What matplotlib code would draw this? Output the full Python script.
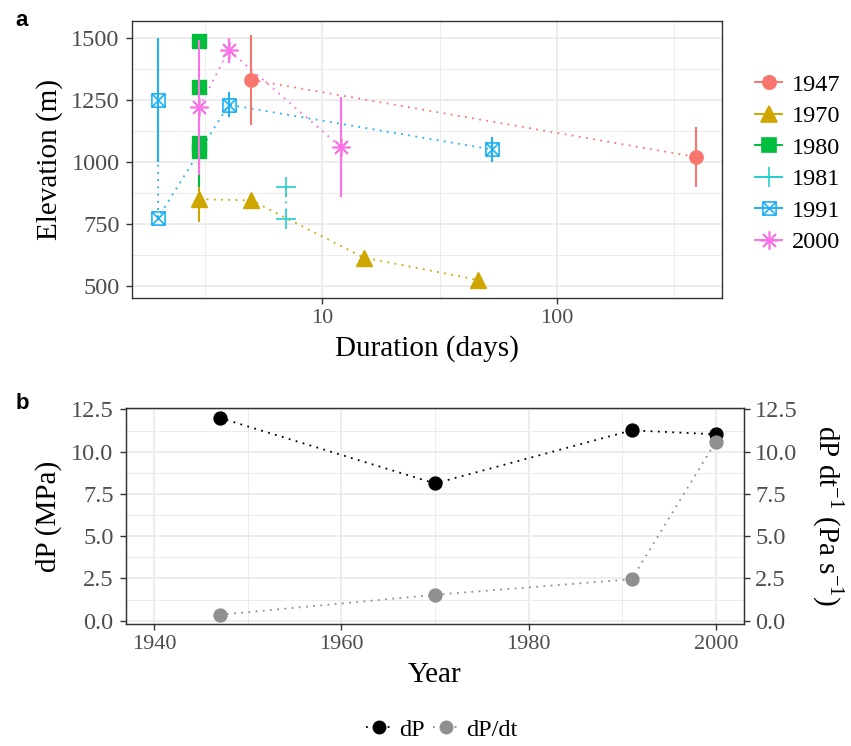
import matplotlib
matplotlib.use('Agg')
import matplotlib.pyplot as plt
from matplotlib.path import Path
from matplotlib.lines import Line2D
from matplotlib.ticker import FixedLocator, NullFormatter
import numpy as np

plt.rcParams['font.family'] = 'Liberation Serif'
plt.rcParams['mathtext.fontset'] = 'custom'
plt.rcParams['mathtext.rm'] = 'Liberation Serif'

nan = np.nan

# Panel a data: duration (days), elevation (m), error bar low/high
dur_1947 = [5, 390]
elev_1947 = [1330, 1020]
lo_1947 = [1150, 900]
hi_1947 = [1510, 1140]

dur_1970 = [3, 5, 15, 46]
elev_1970 = [850, 845, 615, 525]
lo_1970 = [757, nan, nan, nan]
hi_1970 = [943, nan, nan, nan]

dur_1980 = [3, 3, 3, 3]
elev_1980 = [1487, 1300, 1075, 1045]
lo_1980 = [1462, nan, nan, 898]
hi_1980 = [1512, nan, nan, 1192]

dur_1981 = [7, 7]
elev_1981 = [898, 770]
lo_1981 = [nan, nan]
hi_1981 = [nan, nan]

dur_1991 = [2, 2, 4, 53]
elev_1991 = [1250, 775, 1230, 1050]
lo_1991 = [1000, nan, 1180, 1000]
hi_1991 = [1500, nan, 1280, 1100]

dur_2000 = [3, 4, 12]
elev_2000 = [1220, 1450, 1060]
lo_2000 = [948, 1400, 860]
hi_2000 = [1492, 1500, 1260]

years_a = ['1947', '1970', '1980', '1981', '1991', '2000']
colors_a = ['#F8766D', '#CFA500', '#00BE3C', '#22CFCF', '#1EB2F5', '#FB72E6']

# Panel b data
years_b = [1947, 1970, 1991, 2000]
dP = [12.0, 8.12, 11.26, 11.03]
dPdt = [0.35, 1.53, 2.45, 10.6]

# square with an X (ggplot shape 7)
box_x = Path([(-1, -1), (1, -1), (1, 1), (-1, 1), (-1, -1), (-1, -1), (1, 1), (-1, 1), (1, -1)],
             [Path.MOVETO, Path.LINETO, Path.LINETO, Path.LINETO, Path.CLOSEPOLY,
              Path.MOVETO, Path.LINETO, Path.MOVETO, Path.LINETO])

markers = ['o', '^', 's', '+', box_x, (8, 2, 0)]
msizes = [9.6, 11.5, 9.4, 14, 9.5, 13]
filled = [True, True, True, False, False, False]

series = [
    (dur_1947, elev_1947, lo_1947, hi_1947),
    (dur_1970, elev_1970, lo_1970, hi_1970),
    (dur_1980, elev_1980, lo_1980, hi_1980),
    (dur_1981, elev_1981, lo_1981, hi_1981),
    (dur_1991, elev_1991, lo_1991, hi_1991),
    (dur_2000, elev_2000, lo_2000, hi_2000),
]

dots = (0, (1, 3))
grid_col = '#EBEBEB'
tick_col = '#4D4D4D'


def style(ax):
    for s in ax.spines.values():
        s.set_color('#333333')
        s.set_linewidth(1.0)
    ax.grid(True, which='major', color=grid_col, lw=1.3)
    ax.grid(True, which='minor', color=grid_col, lw=0.65)
    ax.set_axisbelow(True)
    ax.tick_params(which='major', direction='out', length=4, width=1.0, color='#333333',
                   labelcolor=tick_col, labelsize=16, pad=4)
    ax.tick_params(axis='y', labelsize=17.5, pad=5)
    ax.tick_params(which='minor', length=0)


fig = plt.figure(figsize=(8.51, 7.46), dpi=100)
ax1 = fig.add_axes([0.1551, 0.6005, 0.6933, 0.3713])
ax2 = fig.add_axes([0.1481, 0.1635, 0.7262, 0.2895])

# ---- panel a ----
ax1.set_xscale('log')
handles = []
for (x, y, lo, hi), c, m, ms, f, lab in zip(series, colors_a, markers, msizes, filled, years_a):
    ax1.plot(x, y, color=c, lw=1.3, linestyle=dots, zorder=2)
    if f:
        ax1.plot(x, y, linestyle='none', marker=m, ms=ms, color=c, mec=c, zorder=3)
    else:
        ax1.plot(x, y, linestyle='none', marker=m, ms=ms, color=c, mfc='none', mec=c,
                 mew=1.2, zorder=3)
    xs = np.array(x, float)
    lo = np.array(lo, float)
    hi = np.array(hi, float)
    ok = ~np.isnan(lo)
    ax1.vlines(xs[ok], lo[ok], hi[ok], color=c, lw=1.5, zorder=4)
    handles.append(Line2D([], [], color=c, lw=1.4, marker=m, ms=ms,
                          mfc=c if f else 'none', mec=c, mew=1.2, label=lab))

ax1.set_xlim(10 ** 0.19, 10 ** 2.703)
ax1.set_ylim(452, 1567)
ax1.xaxis.set_major_locator(FixedLocator([10, 100]))
ax1.set_xticklabels(['10', '100'])
ax1.xaxis.set_minor_locator(FixedLocator([10 ** 0.5, 10 ** 1.5, 10 ** 2.5]))
ax1.xaxis.set_minor_formatter(NullFormatter())
ax1.yaxis.set_major_locator(FixedLocator([500, 750, 1000, 1250, 1500]))
ax1.yaxis.set_minor_locator(FixedLocator([625, 875, 1125, 1375]))
style(ax1)
ax1.set_xlabel('Duration (days)', fontsize=21, labelpad=5)
ax1.set_ylabel('Elevation (m)', fontsize=21, labelpad=6)

fig.legend(handles=handles, loc='center left', bbox_to_anchor=(0.862, 0.781),
           frameon=False, fontsize=17.5, handlelength=1.1, labelspacing=0.39,
           handletextpad=0.4)

# ---- panel b ----
ax2.plot(years_b, dP, color='black', lw=1.3, linestyle=dots, marker='o', ms=9.3, zorder=3)
ax2.plot(years_b, dPdt, color='#8F8F8F', lw=1.3, linestyle=dots, marker='o', ms=9.3, zorder=3)
ax2.set_xlim(1937, 2003)
ax2.set_ylim(-0.2, 12.58)
yt = [0, 2.5, 5, 7.5, 10, 12.5]
ax2.xaxis.set_major_locator(FixedLocator([1940, 1960, 1980, 2000]))
ax2.xaxis.set_minor_locator(FixedLocator([1950, 1970, 1990]))
ax2.yaxis.set_major_locator(FixedLocator(yt))
ax2.yaxis.set_minor_locator(FixedLocator([1.25, 3.75, 6.25, 8.75, 11.25]))
ax2.set_yticklabels(['%.1f' % v for v in yt])
style(ax2)
ax2.set_xlabel('Year', fontsize=21, labelpad=6)
ax2.set_ylabel('dP (MPa)', fontsize=21, labelpad=6)

ax2r = ax2.twinx()
ax2r.set_ylim(-0.2, 12.58)
ax2r.yaxis.set_major_locator(FixedLocator(yt))
ax2r.set_yticklabels(['%.1f' % v for v in yt])
ax2r.tick_params(direction='out', length=4, width=1.0, color='#333333',
                 labelcolor=tick_col, labelsize=17.5, pad=4)
for s in ax2r.spines.values():
    s.set_color('#333333')
ax2r.set_ylabel(r'dP dt$^{-1}$ (Pa s$^{-1}$)', fontsize=21, rotation=270, labelpad=34)

leg_b = [Line2D([], [], color='black', lw=1.3, linestyle=dots, marker='o', ms=9, label='dP'),
         Line2D([], [], color='#8F8F8F', lw=1.3, linestyle=dots, marker='o', ms=9, label='dP/dt')]
fig.legend(handles=leg_b, loc='center', bbox_to_anchor=(0.519, 0.022), ncol=2,
           frameon=False, fontsize=17.5, handlelength=1.05, handletextpad=0.3,
           columnspacing=0.35)

fig.text(0.018, 0.973, 'a', fontsize=16, fontweight='bold', family='Liberation Sans', va='center')
fig.text(0.018, 0.459, 'b', fontsize=16, fontweight='bold', family='Liberation Sans', va='center')

fig.savefig('out.png', dpi=100)
